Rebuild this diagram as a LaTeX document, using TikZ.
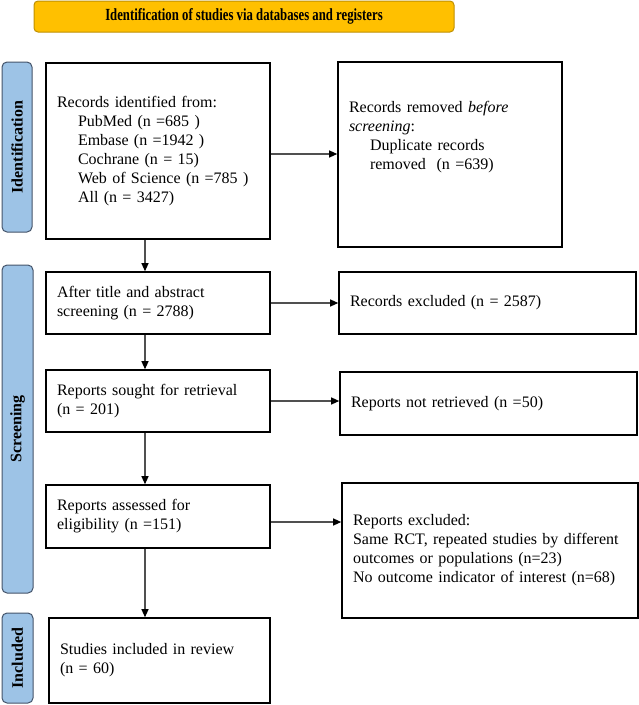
\documentclass[tikz,border=0pt]{standalone}
\usepackage{graphicx}
\usepackage{fontspec}
\setmainfont{Liberation Serif}
\usetikzlibrary{arrows.meta}
\definecolor{bannerfill}{HTML}{FFC000}
\definecolor{bannerdraw}{HTML}{BF9000}
\definecolor{sidefill}{HTML}{9DC3E6}
\definecolor{sidedraw}{HTML}{44546A}
\definecolor{linegray}{HTML}{505050}
\begin{document}
\begin{tikzpicture}[x=1pt,y=-1pt,
  box/.style={draw=black, line width=1.6pt, fill=white, align=left, inner xsep=11pt, inner ysep=0pt,
    font=\fontsize{16pt}{19pt}\selectfont},
  side/.style={draw=sidedraw, fill=sidefill, line width=1pt, rounded corners=5pt, rotate=90,
    inner sep=0pt, font=\fontsize{16pt}{18pt}\selectfont\bfseries},
  arr/.style={draw=linegray, line width=1.2pt, -{Triangle[length=8pt,width=7pt,color=black]}}]

\useasboundingbox (0,0) rectangle (639,705);

% banner
\node[draw=bannerdraw, fill=bannerfill, rounded corners=4pt, line width=1pt,
  minimum width=420pt, minimum height=31pt, inner sep=0pt] (title) at (244,16.5)
  {\scalebox{0.75}[1]{\fontsize{17pt}{19pt}\selectfont\bfseries Identification of studies via databases and registers}};

% side labels
\node[side, minimum width=170pt, minimum height=30pt] (sid) at (17,147) {Identification};
\node[side, minimum width=328pt, minimum height=31pt] (sscr) at (17.5,429) {Screening};
\node[side, minimum width=90pt, minimum height=31pt] (sinc) at (17.5,658) {Included};

% left column
\node[box, text width=202pt, minimum width=224pt, minimum height=176pt] (b1) at (158,151)
  {Records identified from:\\
   \hspace*{21pt}PubMed (n =685 )\\
   \hspace*{21pt}Embase (n =1942 )\\
   \hspace*{21pt}Cochrane (n = 15)\\
   \hspace*{21pt}Web of Science (n =785 )\\
   \hspace*{21pt}All (n = 3427)};
\node[box, text width=202pt, minimum width=224pt, minimum height=62pt] (b3) at (158,303)
  {After title and abstract\\ screening (n = 2788)};
\node[box, text width=202pt, minimum width=224pt, minimum height=62pt] (b4) at (158,401)
  {Reports sought for retrieval\\ (n = 201)};
\node[box, text width=202pt, minimum width=224pt, minimum height=63pt] (b5) at (158,516.5)
  {Reports assessed for\\ eligibility (n =151)};
\node[box, text width=199pt, minimum width=221pt, minimum height=85pt] (b6) at (159.5,660.5)
  {Studies included in review\\ (n = 60)};

% right column
\node[box, text width=202pt, minimum width=224pt, minimum height=185pt] (b2) at (450,154.5)
  {Records removed \textit{before}\\
   \textit{screening}:\\
   \hspace*{21pt}Duplicate records\\
   \hspace*{21pt}removed\ \ (n =639)\\ \mbox{}\\ \mbox{}};
\node[box, text width=275pt, minimum width=297pt, minimum height=62pt] (e1) at (487.5,303)
  {Records excluded (n = 2587)};
\node[box, text width=275pt, minimum width=297pt, minimum height=63pt] (e2) at (488.5,403.5)
  {Reports not retrieved (n =50)};
\node[box, text width=274pt, minimum width=296pt, minimum height=135pt] (e3) at (490,550.5)
  {Reports excluded:\\
   Same RCT, repeated studies by different\\
   outcomes or populations (n=23)\\
   No outcome indicator of interest (n=68)};

% vertical arrows
\coordinate (ax) at (145,0);
\draw[arr] (b1.south -| ax) -- (b3.north -| ax);
\draw[arr] (b3.south -| ax) -- (b4.north -| ax);
\draw[arr] (b4.south -| ax) -- (b5.north -| ax);
\draw[arr] (b5.south -| ax) -- (b6.north -| ax);

% horizontal arrows
\draw[arr] ([yshift=-3pt]b1.east) -- ([yshift=-3pt]b1.east -| b2.west);
\draw[arr] (b3.east) -- (b3.east -| e1.west);
\draw[arr] (b4.east) -- (b4.east -| e2.west);
\draw[arr] ([yshift=-5.5pt]b5.east) -- ([yshift=-5.5pt]b5.east -| e3.west);
\end{tikzpicture}
\end{document}
